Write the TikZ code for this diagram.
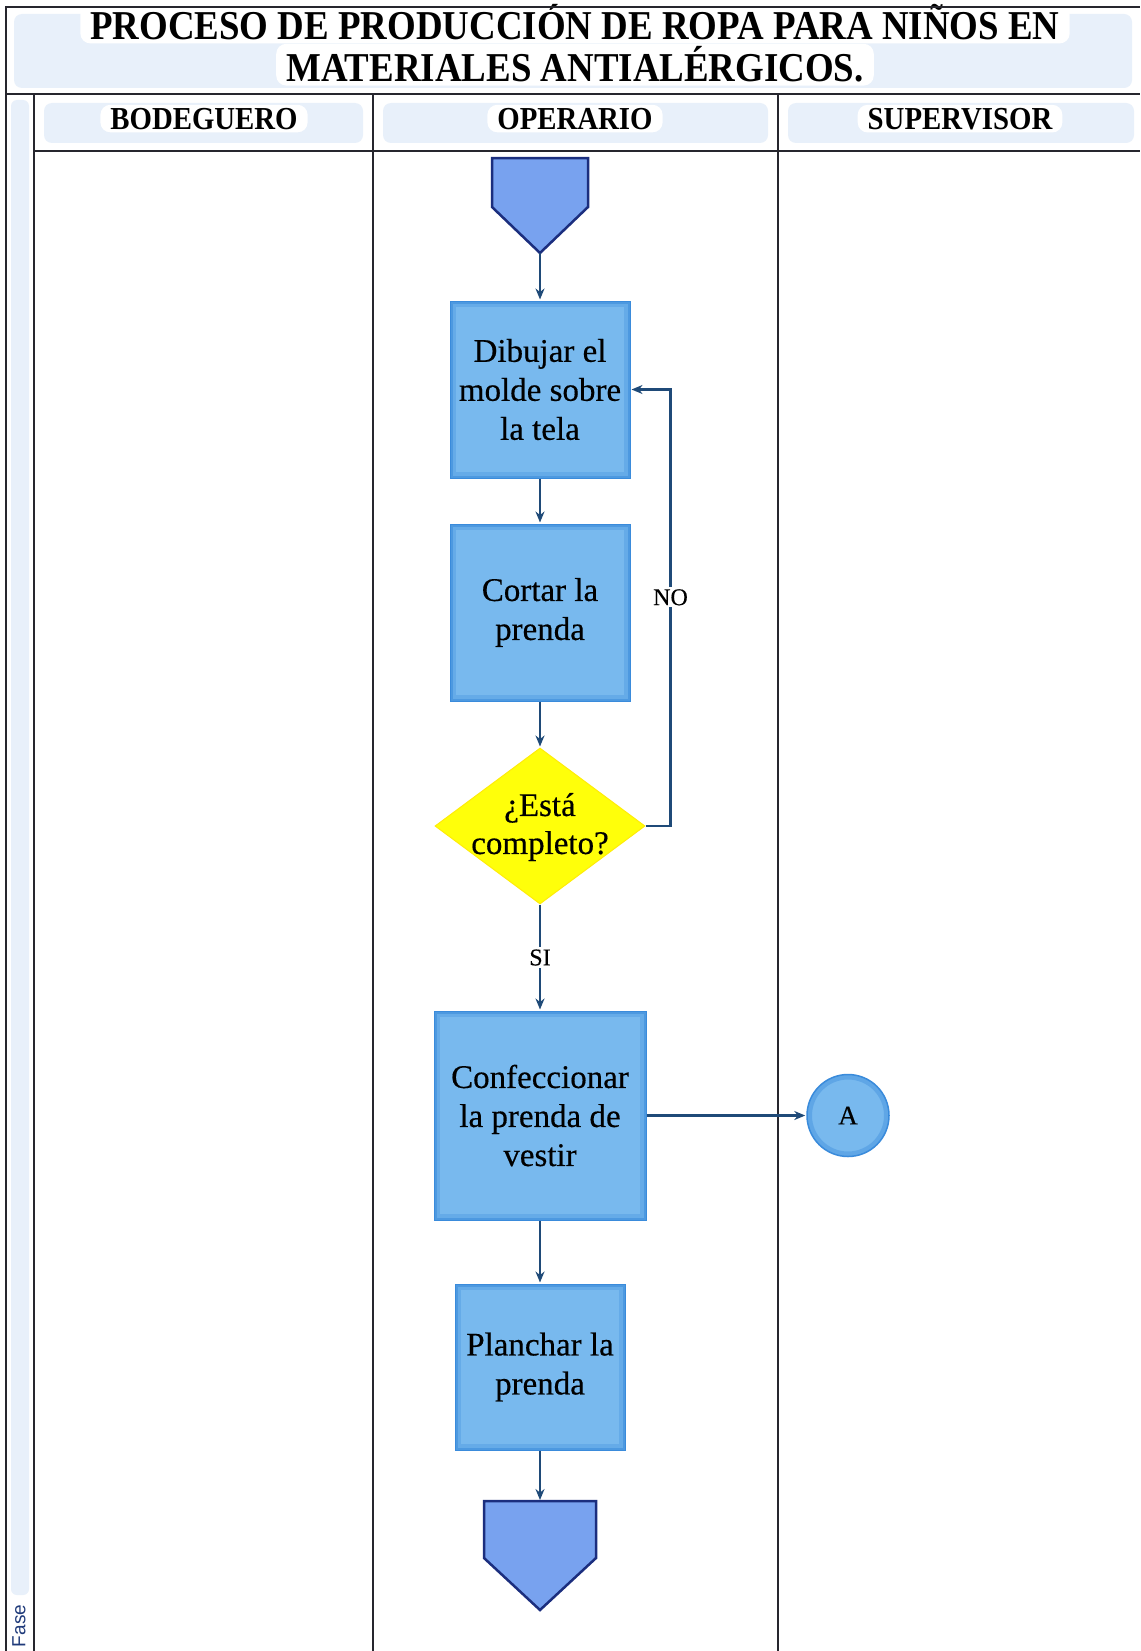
\documentclass[tikz,border=0pt]{standalone}
\usepackage{fontspec}
\setmainfont{Liberation Serif}
\newfontfamily\condfont[FakeStretch=0.90]{Liberation Serif}
\newfontfamily\boxfont[FakeBold=0.4]{Liberation Serif}
\newfontfamily\fasefont{Liberation Sans}
\usetikzlibrary{arrows.meta,shapes.geometric}
\definecolor{boxfill}{HTML}{78B9EE}
\definecolor{boxedge}{HTML}{3A8BDB}
\definecolor{arrowc}{HTML}{1F4A78}
\definecolor{framec}{HTML}{26262E}
\definecolor{paleblue}{HTML}{E8F0FA}
\definecolor{termfill}{HTML}{78A2EF}
\definecolor{termedge}{HTML}{1B2E7E}
\definecolor{diamfill}{HTML}{FFFF0A}
\definecolor{fasec}{HTML}{1F3A7A}
\tikzset{
  frameline/.style={draw=framec, line width=2.5pt},
  glow/.style={path picture={
      \draw[boxedge, line width=12pt, opacity=0.30] (path picture bounding box.south west) rectangle (path picture bounding box.north east);
      \draw[boxedge, line width=5pt, opacity=0.55] (path picture bounding box.south west) rectangle (path picture bounding box.north east);}},
  proc/.style={rectangle, fill=boxfill, draw=boxedge, line width=1pt, inner sep=0pt,
    align=center, glow, font=\boxfont\fontsize{33}{39}\selectfont},
  decision/.style={diamond, fill=diamfill, draw=diamfill!85!orange, line width=1pt, inner sep=0pt},
  connector/.style={circle, fill=boxfill, draw=boxedge, line width=1.5pt, inner sep=0pt,
    minimum size=82pt, font=\boxfont\fontsize{27}{30}\selectfont,
    path picture={\draw[boxedge, line width=10pt, opacity=0.4] (path picture bounding box.center) circle (41pt);}},
  term/.style={fill=termfill, draw=termedge, line width=2.5pt, line join=miter},
  arr/.style={draw=arrowc, line width=2.2pt, -{Stealth[length=11pt,width=9pt]}, shorten >=1pt},
  lbl/.style={fill=white, inner sep=2pt, font=\boxfont\fontsize{24}{26}\selectfont},
  halo/.style={fill=white, rounded corners=10pt, inner xsep=10pt, inner ysep=3pt},
  titletxt/.style={anchor=base, font=\condfont\bfseries\fontsize{41}{42}\selectfont},
  headtxt/.style={anchor=base, font=\condfont\bfseries\fontsize{32}{34}\selectfont}
}
\begin{document}
\begin{tikzpicture}[x=1pt,y=-1pt]
\useasboundingbox[fill=white] (0,0) rectangle (1140,1651);

% pale backgrounds
\fill[paleblue, rounded corners=8pt] (14,14) rectangle (1132,88);
\fill[paleblue, rounded corners=8pt] (44,103) rectangle (363,143);
\fill[paleblue, rounded corners=8pt] (383,103) rectangle (768,143);
\fill[paleblue, rounded corners=8pt] (788,103) rectangle (1134,143);
\fill[paleblue, rounded corners=6pt] (11,100) rectangle (29,1595);

% titles
\node[titletxt, halo] (t1) at (575,40) {PROCESO DE PRODUCCIÓN DE ROPA PARA NIÑOS EN};
\node[titletxt, halo] (t2) at (575,82) {MATERIALES ANTIALÉRGICOS.};
\node[headtxt, halo] (h1) at (204,129) {BODEGUERO};
\node[headtxt, halo] (h2) at (575,129) {OPERARIO};
\node[headtxt, halo] (h3) at (960,129) {SUPERVISOR};
\node[rotate=90, text=fasec, font=\fasefont\fontsize{19}{20}\selectfont] (fase) at (19,1626) {Fase};

% frame
\draw[frameline] (6,1651) -- (6,7) -- (1140,7);
\draw[frameline] (6,94) -- (1140,94);
\draw[frameline] (34,94) -- (34,1651);
\draw[frameline] (34,151) -- (1140,151);
\draw[frameline] (373,94) -- (373,1651);
\draw[frameline] (778,94) -- (778,1651);

% start / end terminators
\draw[term] (492,158) -- (588,158) -- (588,207) -- (540,253) -- (492,207) -- cycle;
\coordinate (start) at (540,253);
\draw[term] (484,1501) -- (596,1501) -- (596,1558) -- (540,1610) -- (484,1558) -- cycle;
\coordinate (fin) at (540,1501);

% process nodes
\node[proc, minimum width=180pt, minimum height=177pt] (b1) at (540,389.5) {Dibujar el\\molde sobre\\la tela};
\node[proc, minimum width=180pt, minimum height=177pt] (b2) at (540,612.5) {Cortar la\\prenda};
\node[decision, minimum width=210pt, minimum height=156pt] (d) at (540,826) {};
\node[align=center, font=\boxfont\fontsize{33}{38}\selectfont] (dt) at (540,827) {¿Está\\completo?};
\node[proc, minimum width=212pt, minimum height=209pt] (b3) at (540,1115.5) {Confeccionar\\la prenda de\\vestir};
\node[proc, minimum width=170pt, minimum height=166pt] (b4) at (540,1367) {Planchar la\\prenda};
\node[connector] (A) at (848,1115.5) {A};

% connectors
\draw[arr] (start) -- (b1.north);
\draw[arr] (b1.south) -- (b2.north);
\draw[arr] (b2.south) -- (d.north);
\draw[arr] (d.south) -- node[lbl] (si) {SI} (b3.north);
\draw[arr] (d.east) -- ++(25,0) |- node[lbl, pos=0.262] (no) {NO} (b1.east);
\draw[arr] (b3.east) -- (A.west);
\draw[arr] (b3.south) -- (b4.north);
\draw[arr] (b4.south) -- (fin);
\end{tikzpicture}
\end{document}
